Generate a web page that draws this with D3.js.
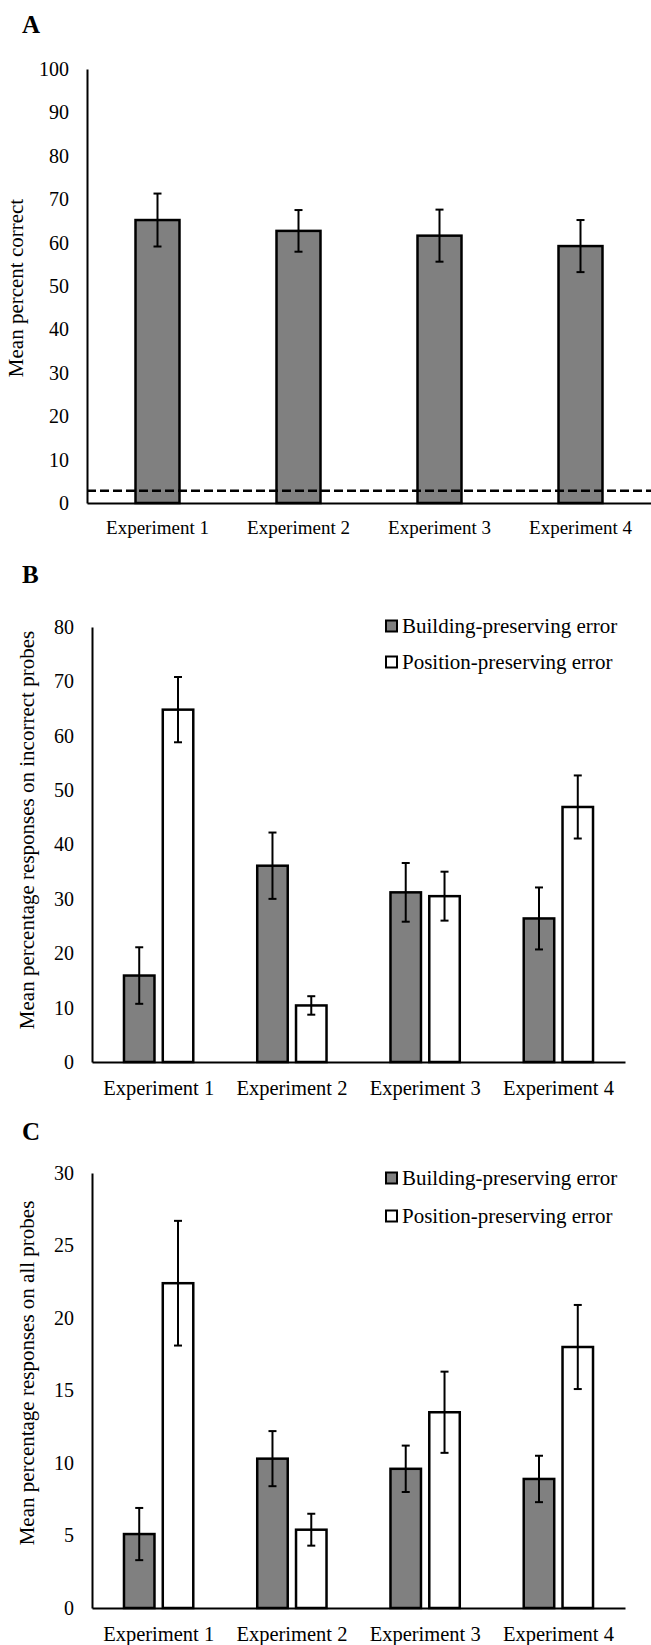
<!DOCTYPE html>
<html>
<head>
<meta charset="utf-8">
<script src="https://cdn.jsdelivr.net/npm/d3@7"></script>
<style>
  body { margin: 0; background: #fff; }
  svg text { font-family: "Liberation Serif", "Times New Roman", serif !important; fill: #000; }
</style>
</head>
<body>
<svg width="651" height="1645"></svg>
<script>
var WIDTH = 651;
var HEIGHT = 1645;
var FONT = '"Liberation Serif", "Times New Roman", serif';

// data
var experiments = ['Experiment 1', 'Experiment 2', 'Experiment 3', 'Experiment 4'];
var seriesNames = ['Building-preserving error', 'Position-preserving error'];

var correctMean = [65.2, 62.7, 61.6, 59.2];
var correctErr = [6.1, 4.8, 6.0, 6.0];
var chanceLevel = 2.8;

var incorrectBuilding = [15.9, 36.1, 31.2, 26.4];
var incorrectBuildingErr = [5.2, 6.1, 5.4, 5.7];
var incorrectPosition = [64.8, 10.4, 30.5, 46.9];
var incorrectPositionErr = [6.0, 1.7, 4.5, 5.8];

var allBuilding = [5.1, 10.3, 9.6, 8.9];
var allBuildingErr = [1.8, 1.9, 1.6, 1.6];
var allPosition = [22.4, 5.4, 13.5, 18.0];
var allPositionErr = [4.3, 1.1, 2.8, 2.9];

var ticksA = [0, 10, 20, 30, 40, 50, 60, 70, 80, 90, 100];
var ticksB = [0, 10, 20, 30, 40, 50, 60, 70, 80];
var ticksC = [0, 5, 10, 15, 20, 25, 30];

var fills = { 'Building-preserving error': '#808080', 'Position-preserving error': '#ffffff' };

var svg = d3.select('svg')
    .attr('width', WIDTH)
    .attr('height', HEIGHT)
    .attr('font-family', FONT);

function drawAxes(g, x, y, ticks, fontSize, pad) {
    var yAxis = g.append('g')
        .attr('transform', 'translate(' + x.range()[0] + ',0)')
        .call(d3.axisLeft(y).tickValues(ticks).tickSize(0).tickPadding(18))
        .attr('font-family', FONT);
    yAxis.select('.domain').attr('stroke', '#000').attr('stroke-width', 2);
    yAxis.selectAll('text').style('font-size', '20px').style('font-family', FONT);

    var xAxis = g.append('g')
        .attr('transform', 'translate(0,' + y.range()[0] + ')')
        .call(d3.axisBottom(x).tickSize(0).tickPadding(pad))
        .attr('font-family', FONT);
    xAxis.select('.domain').attr('stroke', '#000').attr('stroke-width', 2);
    xAxis.selectAll('text').style('font-size', fontSize + 'px').style('font-family', FONT);
}

function errorBars(g, rows, x, y, w) {
    var eb = g.selectAll(null).data(rows).enter().append('g')
        .attr('stroke', '#000').attr('stroke-width', 2);
    eb.append('line')
        .attr('x1', function(d) { return x(d); }).attr('x2', function(d) { return x(d); })
        .attr('y1', function(d) { return y(d.v + d.e); })
        .attr('y2', function(d) { return y(d.v - d.e); });
    eb.append('line')
        .attr('x1', function(d) { return x(d) - w / 2; }).attr('x2', function(d) { return x(d) + w / 2; })
        .attr('y1', function(d) { return y(d.v + d.e); }).attr('y2', function(d) { return y(d.v + d.e); });
    eb.append('line')
        .attr('x1', function(d) { return x(d) - w / 2; }).attr('x2', function(d) { return x(d) + w / 2; })
        .attr('y1', function(d) { return y(d.v - d.e); }).attr('y2', function(d) { return y(d.v - d.e); });
}

function panelLetter(txt, yPos) {
    svg.append('text')
        .attr('x', 22).attr('y', yPos)
        .style('font-size', '25px').style('font-weight', 'bold')
        .text(txt);
}

function yTitle(txt, xPos, yPos) {
    svg.append('text')
        .attr('transform', 'translate(' + xPos + ',' + yPos + ') rotate(-90)')
        .attr('text-anchor', 'middle')
        .style('font-size', '21px')
        .text(txt);
}

// ---------- Panel A ----------
panelLetter('A', 33);
var gA = svg.append('g');
var xA = d3.scaleBand().domain(experiments).range([87, 651]).paddingInner(0.688).paddingOuter(0.344);
var yA = d3.scaleLinear().domain([0, 100]).range([503, 69]);

var rowsA = experiments.map(function(k, i) { return { k: k, v: correctMean[i], e: correctErr[i] }; });

gA.selectAll('rect').data(rowsA).enter().append('rect')
    .attr('x', function(d) { return xA(d.k); })
    .attr('y', function(d) { return yA(d.v); })
    .attr('width', xA.bandwidth())
    .attr('height', function(d) { return yA(0) - yA(d.v); })
    .attr('fill', '#808080')
    .attr('stroke', '#000')
    .attr('stroke-width', 2.5);

errorBars(gA, rowsA, function(d) { return xA(d.k) + xA.bandwidth() / 2; }, yA, 8);

drawAxes(gA, xA, yA, ticksA, 19, 18);

gA.append('line')
    .attr('x1', 87).attr('x2', 651)
    .attr('y1', yA(chanceLevel)).attr('y2', yA(chanceLevel))
    .attr('stroke', '#000').attr('stroke-width', 2.5)
    .attr('stroke-dasharray', '9,4');

yTitle('Mean percent correct', 23, 288);

// ---------- grouped panels B and C ----------
function groupedPanel(opts) {
    var g = svg.append('g');
    var x = d3.scaleBand().domain(experiments).range([92, 625]).paddingInner(0.48).paddingOuter(0.24);
    var xs = d3.scaleBand().domain(seriesNames).range([0, x.bandwidth()]).paddingInner(0.214);
    var y = d3.scaleLinear().domain([0, opts.max]).range([opts.bottom, opts.top]);

    var rows = [];
    experiments.forEach(function(k, i) {
        rows.push({ k: k, s: seriesNames[0], v: opts.building[i], e: opts.buildingErr[i] });
        rows.push({ k: k, s: seriesNames[1], v: opts.position[i], e: opts.positionErr[i] });
    });

    g.selectAll('rect').data(rows).enter().append('rect')
        .attr('x', function(d) { return x(d.k) + xs(d.s); })
        .attr('y', function(d) { return y(d.v); })
        .attr('width', xs.bandwidth())
        .attr('height', function(d) { return y(0) - y(d.v); })
        .attr('fill', function(d) { return fills[d.s]; })
        .attr('stroke', '#000')
        .attr('stroke-width', 2.5);

    errorBars(g, rows, function(d) { return x(d.k) + xs(d.s) + xs.bandwidth() / 2; }, y, 8);

    drawAxes(g, x, y, opts.ticks, 20.5, 18);

    // legend
    var lg = g.selectAll('.legend').data(seriesNames).enter().append('g')
        .attr('class', 'legend')
        .attr('transform', function(d, i) { return 'translate(385,' + opts.legendY[i] + ')'; });
    lg.append('rect')
        .attr('x', 1).attr('y', -5.5).attr('width', 11).attr('height', 11)
        .attr('fill', function(d) { return fills[d]; })
        .attr('stroke', '#000').attr('stroke-width', 2);
    lg.append('text')
        .attr('x', 17).attr('dy', '0.33em')
        .style('font-size', '21px')
        .text(function(d) { return d; });
}

panelLetter('B', 583);
groupedPanel({
    max: 80, top: 627, bottom: 1062, ticks: ticksB,
    building: incorrectBuilding, buildingErr: incorrectBuildingErr,
    position: incorrectPosition, positionErr: incorrectPositionErr,
    legendY: [626, 662]
});
yTitle('Mean percentage responses on incorrect probes', 34, 830);

panelLetter('C', 1140);
groupedPanel({
    max: 30, top: 1173, bottom: 1608, ticks: ticksC,
    building: allBuilding, buildingErr: allBuildingErr,
    position: allPosition, positionErr: allPositionErr,
    legendY: [1178, 1216]
});
yTitle('Mean percentage responses on all probes', 34, 1373);
</script>
</body>
</html>
